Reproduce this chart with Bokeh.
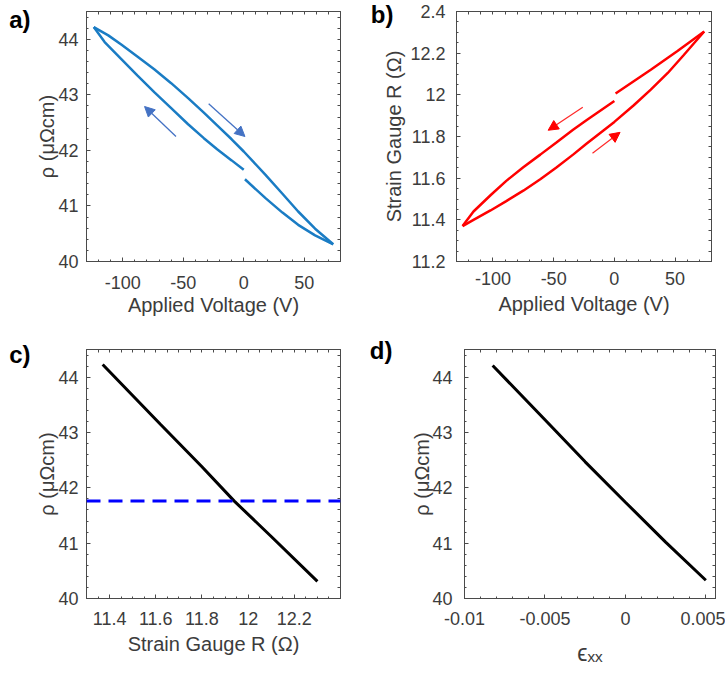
from bokeh.plotting import figure
from bokeh.models import LinearAxis, FixedTicker, Range1d, Arrow, NormalHead, Span
from bokeh.layouts import row, column
from bokeh.embed import file_html
from bokeh.resources import INLINE

# ---------------- data ----------------
# Panel a: resistivity vs applied voltage (hysteresis loop)
a_up_volt = [-124, -112, -101, -88, -74, -60, -46, -33, -22, -10, 0, 18, 32, 45, 59, 74]
a_up_rho = [44.22, 44.07, 43.90, 43.69, 43.46, 43.21, 42.94, 42.68, 42.45, 42.20, 41.98,
            41.56, 41.22, 40.90, 40.59, 40.31]
a_back1_volt = [74, 59, 45, 32, 18, 1]
a_back1_rho = [40.31, 40.47, 40.66, 40.88, 41.14, 41.48]
a_back2_volt = [0, -10, -22, -33, -46, -60, -74, -88, -101, -115, -124]
a_back2_rho = [41.65, 41.82, 42.02, 42.22, 42.47, 42.76, 43.05, 43.35, 43.64, 43.95, 44.22]
a_arrows = [(-56, 42.25, -82, 42.79), (-29, 42.84, 1, 42.25)]

# Panel b: strain gauge resistance vs applied voltage
b_up_volt = [-125, -116, -102, -89, -75, -61, -48, -34, -23, 0, 16, 30, 44, 57, 74]
b_up_r = [11.37, 11.40, 11.445, 11.49, 11.54, 11.595, 11.65, 11.713, 11.765, 11.87,
          11.95, 12.025, 12.105, 12.19, 12.304]
b_back1_volt = [74, 52, 30, 1]
b_back1_r = [12.304, 12.21, 12.12, 12.006]
b_back2_volt = [0, -23, -34, -48, -61, -75, -89, -102, -116, -125]
b_back2_r = [11.97, 11.878, 11.832, 11.77, 11.713, 11.652, 11.587, 11.518, 11.44, 11.37]
b_arrows = [(-26, 11.94, -54.5, 11.83), (-18, 11.72, 4.7, 11.82)]

# Panel c: resistivity vs strain gauge resistance
c_r = [11.37, 11.62, 11.80, 11.94, 12.10, 12.30]
c_rho = [44.23, 43.15, 42.38, 41.76, 41.12, 40.31]
c_ref_rho = 41.76

# Panel d: resistivity vs strain
d_eps = [-0.00825, -0.005, -0.0025, 0.0, 0.0025, 0.005]
d_rho = [44.21, 43.23, 42.47, 41.74, 41.02, 40.33]

# tick labels
volt_ticks = [-100, -50, 0, 50]
volt_labels = ["-100", "-50", "0", "50"]
rho_ticks = [40, 41, 42, 43, 44]
rho_labels = ["40", "41", "42", "43", "44"]
r_ticks = [11.2, 11.4, 11.6, 11.8, 12.0, 12.2, 12.4]
r_labels = ["11.2", "11.4", "11.6", "11.8", "12", "12.2", "2.4"]
rc_ticks = [11.4, 11.6, 11.8, 12.0, 12.2]
rc_labels = ["11.4", "11.6", "11.8", "12", "12.2"]
eps_ticks = [-0.01, -0.005, 0.0, 0.005]
eps_labels = ["-0.01", "-0.005", "0", "0.005"]

# ---------------- styling ----------------
FONT = "Liberation Sans"
TXT = "#3c3c3c"
AX = "#4a4a4a"
BLUE = "#1a7cc4"
ARROW_BLUE = "#4472c4"
RED = "#ff0000"


def minor(lo, hi, step):
    n = int(round((hi - lo) / step))
    return [round(lo + i * step, 6) for i in range(n + 1)]


def make_fig(w, h, xr, yr, borders):
    l, r, t, b = borders
    p = figure(width=w, height=h, x_range=Range1d(*xr), y_range=Range1d(*yr),
               output_backend="svg", toolbar_location=None,
               min_border_left=l, min_border_right=r, min_border_top=t, min_border_bottom=b,
               x_axis_location=None, y_axis_location=None)
    p.grid.visible = False
    p.outline_line_color = AX
    p.outline_line_width = 1
    p.background_fill_color = "white"
    p.border_fill_color = "white"
    return p


def tick_style(ax):
    ax.axis_line_color = AX
    ax.major_tick_line_color = AX
    ax.minor_tick_line_color = AX
    ax.major_tick_in = 4
    ax.major_tick_out = 0
    ax.minor_tick_in = 2
    ax.minor_tick_out = 0


def main_axis(ticks, labels, minors, label, standoff, label_standoff, label_size="20px"):
    ax = LinearAxis(axis_label=label)
    ax.ticker = FixedTicker(ticks=ticks, minor_ticks=minors)
    tick_style(ax)
    ax.major_label_overrides = dict(zip(ticks, labels))
    ax.major_label_text_font = FONT
    ax.major_label_text_font_size = "18px"
    ax.major_label_text_color = TXT
    ax.major_label_standoff = standoff
    ax.axis_label_text_font = FONT
    ax.axis_label_text_font_size = label_size
    ax.axis_label_text_font_style = "normal"
    ax.axis_label_text_color = TXT
    ax.axis_label_standoff = label_standoff
    return ax


def mirror_axis(ticks, minors):
    # box ticks on the top / right edges, no labels
    ax = LinearAxis(ticker=FixedTicker(ticks=[], minor_ticks=sorted(set(ticks) | set(minors))))
    tick_style(ax)
    ax.minor_tick_in = 3
    ax.major_label_standoff = 0
    ax.axis_label = None
    return ax


def panel_tag(p, text, ypos, standoff):
    # panel letter drawn as the single label of an extra, invisible left axis
    ax = LinearAxis(ticker=FixedTicker(ticks=[ypos], minor_ticks=[]))
    ax.major_label_overrides = {ypos: text}
    ax.axis_line_color = None
    ax.major_tick_line_color = None
    ax.minor_tick_line_color = None
    ax.major_tick_out = 0
    ax.major_tick_in = 0
    ax.major_label_standoff = standoff
    ax.major_label_text_font = FONT
    ax.major_label_text_font_size = "24px"
    ax.major_label_text_font_style = "bold"
    ax.major_label_text_color = "black"
    p.add_layout(ax, "left")


def add_axes(p, xt, xl, xm, yt, yl, ym, xlabel, ylabel, xs, ys, xlabel_size="20px"):
    p.add_layout(main_axis(xt, xl, xm, xlabel, *xs, label_size=xlabel_size), "below")
    p.add_layout(mirror_axis(xt, xm), "above")
    p.add_layout(main_axis(yt, yl, ym, ylabel, *ys), "left")
    p.add_layout(mirror_axis(yt, ym), "right")


RHO_LABEL = "\u03c1 (\u03bc\u03a9cm)"

# ---------------- panel a ----------------
pa = make_fig(360, 330, (-130, 80), (40, 44.5), (86, 20, 11, 69))
add_axes(pa, volt_ticks, volt_labels, minor(-130, 80, 10),
         rho_ticks, rho_labels, minor(40, 44.4, 0.2),
         "Applied Voltage (V)", RHO_LABEL, xs=(14, 2), ys=(8, -3))
panel_tag(pa, "a)", 44.36, 3)
pa.line(a_up_volt, a_up_rho, line_color=BLUE, line_width=2.5)
pa.line(a_back1_volt, a_back1_rho, line_color=BLUE, line_width=2.5)
pa.line(a_back2_volt, a_back2_rho, line_color=BLUE, line_width=2.5)
for x0, y0, x1, y1 in a_arrows:
    pa.add_layout(Arrow(end=NormalHead(size=10, fill_color=ARROW_BLUE, line_color=ARROW_BLUE),
                        x_start=x0, y_start=y0, x_end=x1, y_end=y1,
                        line_color=ARROW_BLUE, line_width=1.3))

# ---------------- panel b ----------------
pb = make_fig(365, 330, (-130, 80), (11.2, 12.4), (96, 14, 11, 66))
add_axes(pb, volt_ticks, volt_labels, minor(-130, 80, 10),
         r_ticks, r_labels, minor(11.2, 12.4, 0.05),
         "Applied Voltage (V)", "Strain Gauge R (\u03a9)", xs=(10, 5), ys=(11, 2))
panel_tag(pb, "b)", 12.386, -13)
pb.line(b_up_volt, b_up_r, line_color=RED, line_width=2.5)
pb.line(b_back1_volt, b_back1_r, line_color=RED, line_width=2.5)
pb.line(b_back2_volt, b_back2_r, line_color=RED, line_width=2.5)
for x0, y0, x1, y1 in b_arrows:
    pb.add_layout(Arrow(end=NormalHead(size=10, fill_color=RED, line_color=RED),
                        x_start=x0, y_start=y0, x_end=x1, y_end=y1,
                        line_color=RED, line_width=1.2, line_alpha=0.85))

# ---------------- panel c ----------------
pc = make_fig(360, 345, (11.3, 12.4), (40, 44.5), (86, 20, 15, 77))
add_axes(pc, rc_ticks, rc_labels, minor(11.3, 12.4, 0.05),
         rho_ticks, rho_labels, minor(40, 44.4, 0.2),
         "Strain Gauge R (\u03a9)", RHO_LABEL, xs=(13, 5), ys=(8, -3))
panel_tag(pc, "c)", 44.41, 3)
pc.add_layout(Span(location=c_ref_rho, dimension="width", line_color="#0000ff",
                   line_width=3, line_dash="14 8"))
pc.line(c_r, c_rho, line_color="black", line_width=3)

# ---------------- panel d ----------------
pd_ = make_fig(365, 345, (-0.01, 0.0056), (40, 44.5), (104, 10, 19, 73))
add_axes(pd_, eps_ticks, eps_labels, minor(-0.01, 0.005, 0.001),
         rho_ticks, rho_labels, minor(40, 44.4, 0.2),
         "\u03f5\u2093\u2093", RHO_LABEL, xs=(13, 12), ys=(12, -4), xlabel_size="23px")
panel_tag(pd_, "d)", 44.49, 16)
pd_.line(d_eps, d_rho, line_color="black", line_width=3)

layout = column(row(pa, pb, spacing=0), row(pc, pd_, spacing=0), spacing=0)
open("out.html", "w").write(file_html(layout, INLINE))
